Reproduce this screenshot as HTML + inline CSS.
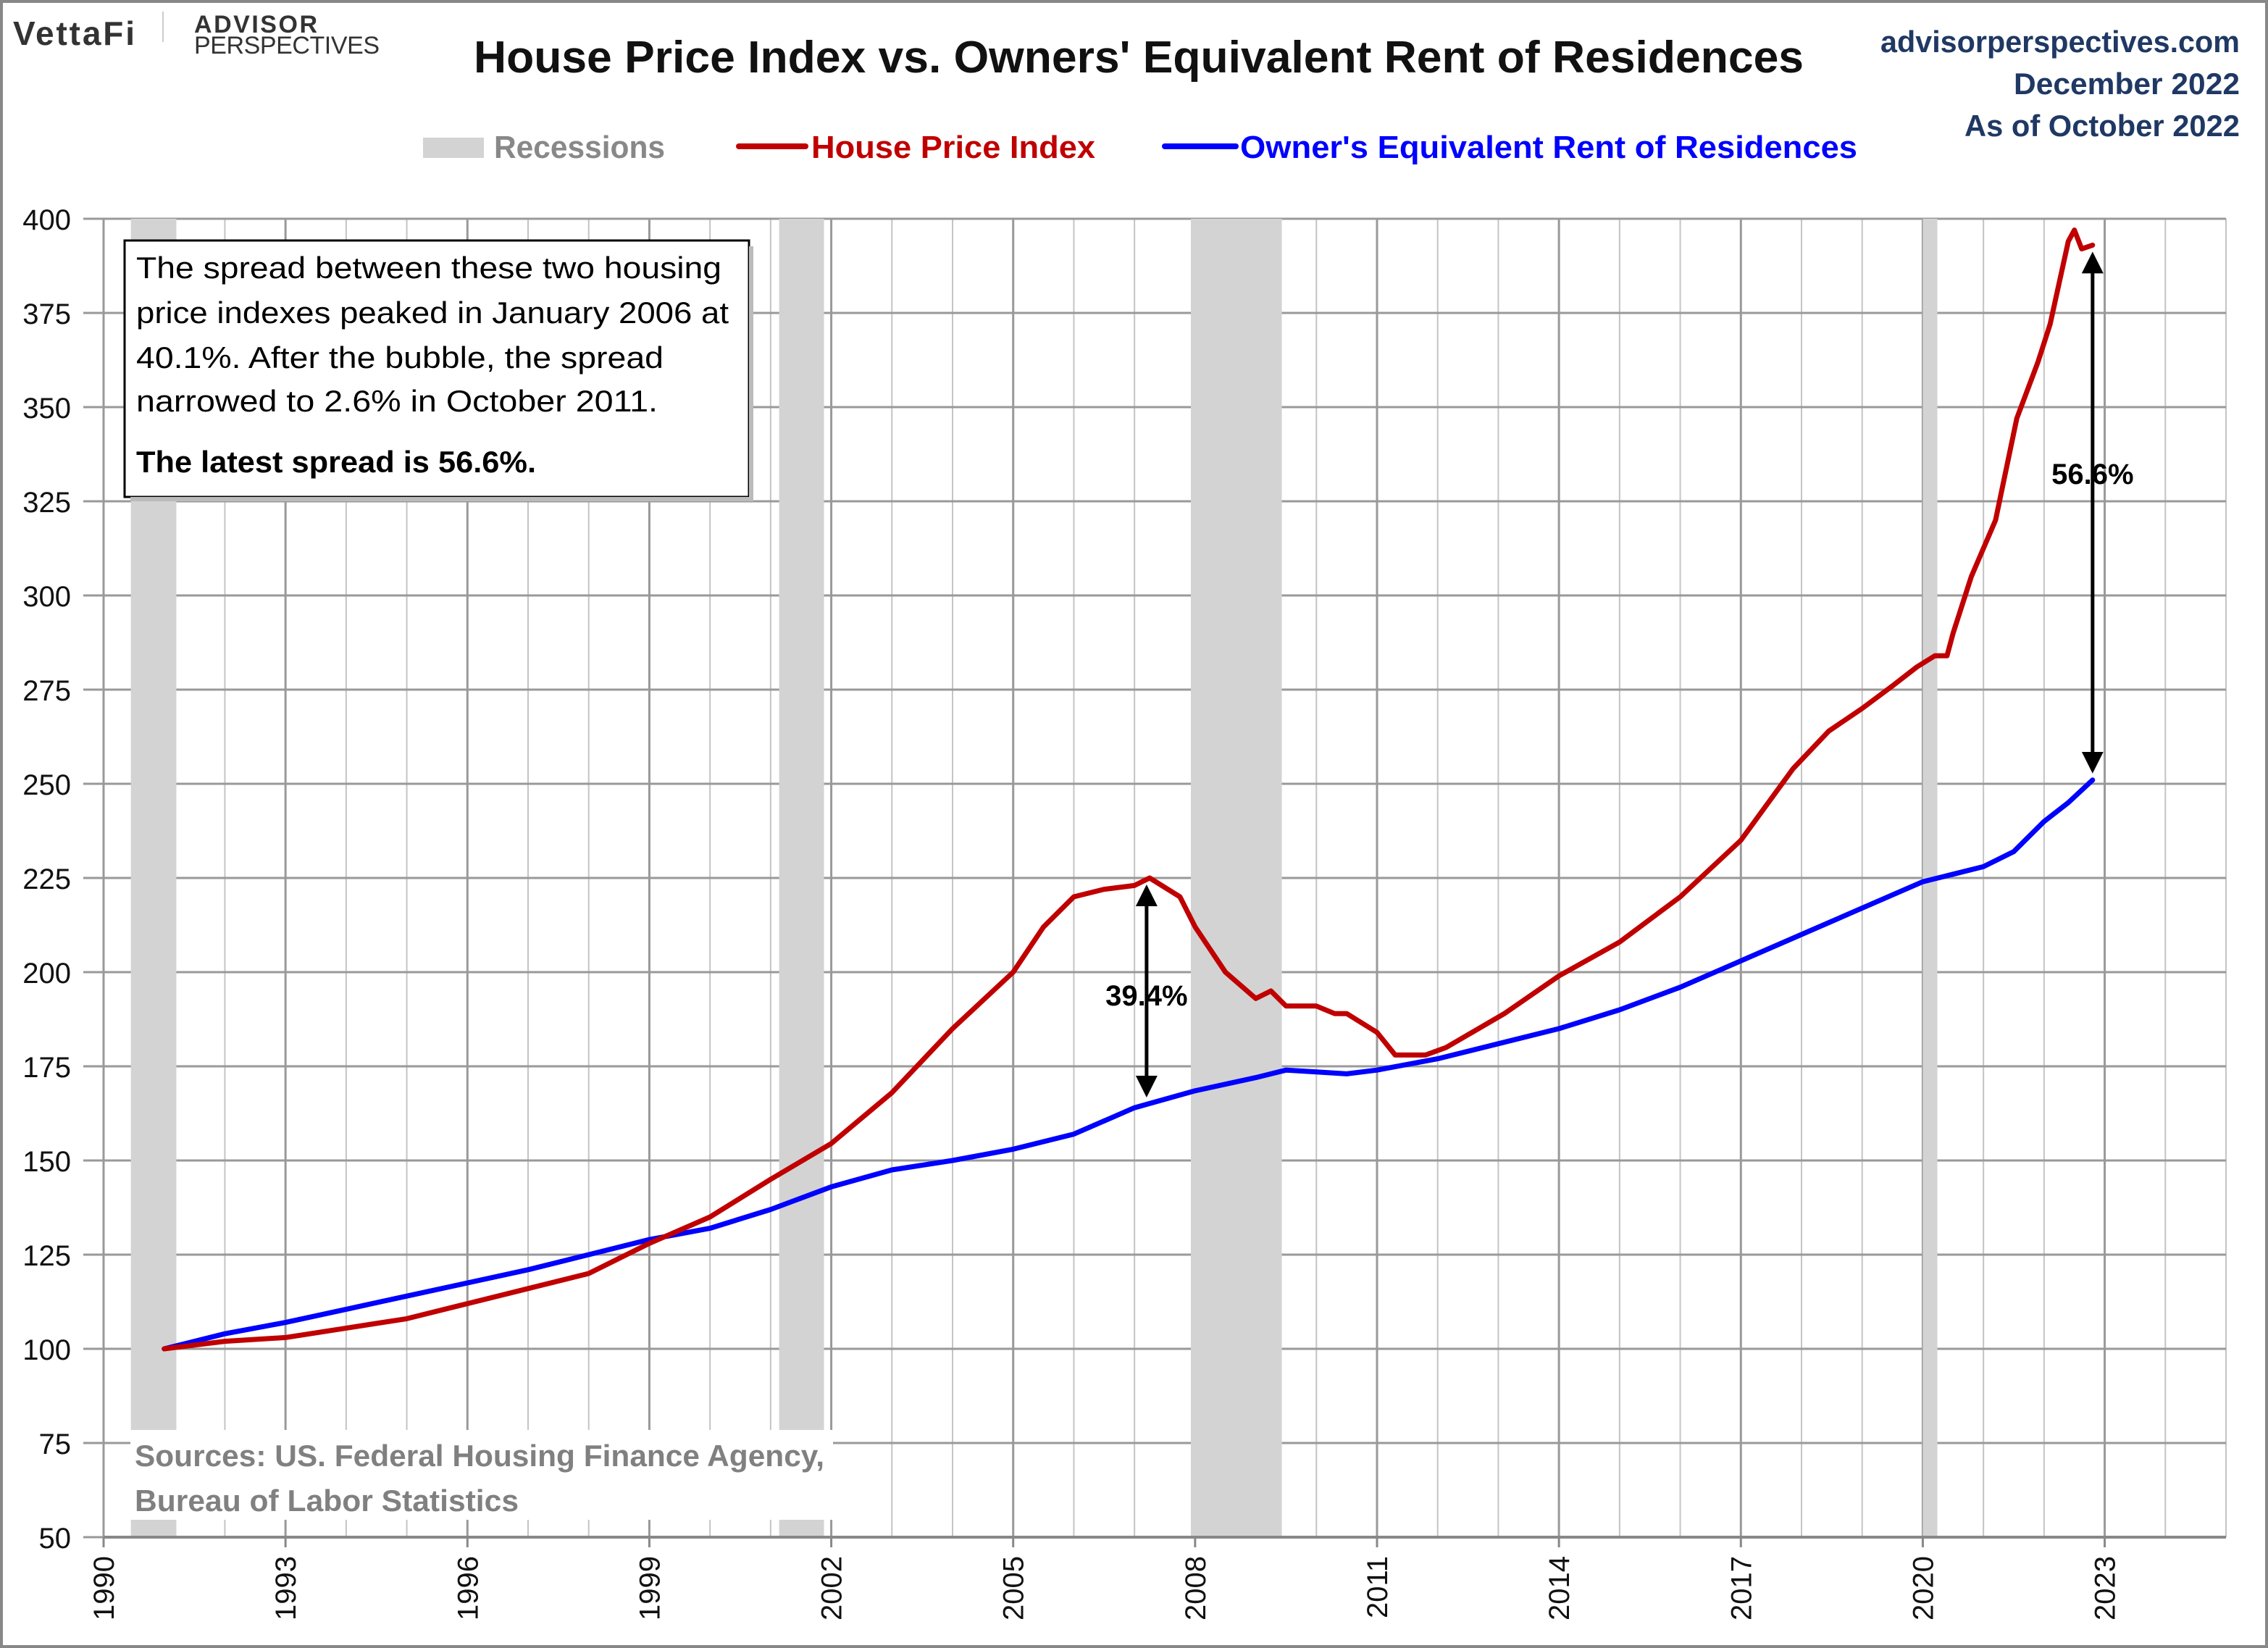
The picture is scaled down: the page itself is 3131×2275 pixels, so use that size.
<!DOCTYPE html>
<html><head><meta charset="utf-8"><style>
html,body{margin:0;padding:0;background:#fff}
svg{display:block}
text{font-family:"Liberation Sans",sans-serif}
</style></head><body>
<svg id="chart" width="3131" height="2275" viewBox="0 0 3131 2275" xmlns="http://www.w3.org/2000/svg">
<rect x="2" y="2" width="3127" height="2271" fill="#fff" stroke="#888" stroke-width="4"/>
<g id="grid"></g>
<g id="recs"></g>
<g id="axes"></g>
<g id="series"></g>
<g>
<text x="18" y="62" font-size="46" font-weight="bold" fill="#333" textLength="168">VettaFi</text>
<line x1="225" y1="16" x2="225" y2="58" stroke="#ccc" stroke-width="2"/>
<text x="268" y="45" font-size="34" font-weight="bold" fill="#333" textLength="170">ADVISOR</text>
<text x="268" y="74" font-size="34" fill="#333" textLength="256">PERSPECTIVES</text>
<text x="1572" y="100" text-anchor="middle" font-size="62" font-weight="bold" fill="#111" textLength="1836" lengthAdjust="spacingAndGlyphs">House Price Index vs. Owners' Equivalent Rent of Residences</text>
<text x="3092" y="72" text-anchor="end" font-size="42" font-weight="bold" fill="#1f3864" textLength="496" lengthAdjust="spacingAndGlyphs">advisorperspectives.com</text>
<text x="3092" y="130" text-anchor="end" font-size="42" font-weight="bold" fill="#1f3864" textLength="312" lengthAdjust="spacingAndGlyphs">December 2022</text>
<text x="3092" y="188" text-anchor="end" font-size="42" font-weight="bold" fill="#1f3864" textLength="380" lengthAdjust="spacingAndGlyphs">As of October 2022</text>
</g>
<g>
<rect x="584" y="190" width="84" height="28" fill="#d3d3d3"/>
<text x="682" y="218" font-size="44" font-weight="bold" fill="#888" textLength="236" lengthAdjust="spacingAndGlyphs">Recessions</text>
<line x1="1020" y1="202" x2="1112" y2="202" stroke="#c00000" stroke-width="8" stroke-linecap="round"/>
<text x="1120" y="218" font-size="44" font-weight="bold" fill="#c00000" textLength="392" lengthAdjust="spacingAndGlyphs">House Price Index</text>
<line x1="1608" y1="202" x2="1706" y2="202" stroke="#0000ff" stroke-width="8" stroke-linecap="round"/>
<text x="1712" y="218" font-size="44" font-weight="bold" fill="#0000ff" textLength="852" lengthAdjust="spacingAndGlyphs">Owner's Equivalent Rent of Residences</text>
</g>
<g id="notes"></g>
</svg>
<script>
const yearTicks=[1990,1993,1996,1999,2002,2005,2008,2011,2014,2017,2020,2023];
const yTicks=[50,75,100,125,150,175,200,225,250,275,300,325,350,375,400];
const recStart=[1990.45,2001.14,2007.93,2020.0];
const recEnd=[1991.2,2001.88,2009.43,2020.24];
const hpiX=[1991,1992,1993,1994,1995,1996,1997,1998,1999,2000,2001,2002,2003,2004,2005,2005.5,2006,2006.5,2007,2007.25,2007.75,2008,2008.5,2009,2009.25,2009.5,2010,2010.3,2010.5,2011,2011.3,2011.8,2012.14,2013.1,2014,2015,2016,2017,2017.86,2018.45,2019,2019.5,2019.9,2020.2,2020.4,2020.5,2020.8,2021.2,2021.55,2021.9,2022.1,2022.4,2022.5,2022.62,2022.8];
const hpiY=[100,102,103,105.5,108,112,116,120,128,135,145,154.5,168,185,200,212,220,222,223,225,220,212,200,193,195,191,191,189,189,184,178,178,180,189,199,208,220,235,254,264,270,276,281,284,284,290,305,320,347,362,372,394,397,392,393];
const oerX=[1991,1992,1993,1994,1995,1996,1997,1998,1999,2000,2001,2002,2003,2004,2005,2006,2007,2008,2009,2009.5,2010,2010.5,2011,2012,2013,2014,2015,2016,2017,2018,2019,2020,2020.5,2021,2021.5,2022,2022.4,2022.8];
const oerY=[100,104,107,110.5,114,117.5,121,125,129,132,137,143,147.5,150,153,157,164,168.5,172,174,173.5,173,174,177,181,185,190,196,203,210,217,224,226,228,232,240,245,251];

const NS="http://www.w3.org/2000/svg";
const L=143,R=3073,T=302,B=2122,X0=1990,X1=2025,Y0=50,Y1=400;
const xs=v=>L+(v-X0)/(X1-X0)*(R-L);
const ys=v=>B-(v-Y0)/(Y1-Y0)*(B-T);
function mk(tag,attrs,parent){const e=document.createElementNS(NS,tag);for(const k in attrs)e.setAttribute(k,attrs[k]);parent.appendChild(e);return e;}
const grid=document.getElementById('grid'),recs=document.getElementById('recs'),axes=document.getElementById('axes'),series=document.getElementById('series'),notes=document.getElementById('notes');
for(let y=X0;y<=X1;y++){
  const l=mk('line',{x1:xs(y),x2:xs(y),y1:T,y2:B,stroke:yearTicks.includes(y)?'#999':'#c4c4c4','stroke-width':yearTicks.includes(y)?3:2},grid);
  
  
}
yTicks.forEach(v=>{
  const l=mk('line',{x1:L-28,x2:R,y1:ys(v),y2:ys(v),stroke:'#999','stroke-width':3},grid);
  
  
  const t=mk('text',{x:98,y:ys(v)+15,'text-anchor':'end','font-size':40,fill:'#111'},axes);
  t.textContent=v;
  
  
});
recStart.forEach((s,i)=>{
  const r=mk('rect',{x:xs(s),y:T,width:xs(recEnd[i])-xs(s),height:B-T,fill:'#d3d3d3'},recs);
  
  
});
mk('line',{x1:L,x2:R,y1:B,y2:B,stroke:'#888','stroke-width':4},axes);
yearTicks.forEach(y=>{
  const tk=mk('line',{x1:xs(y),x2:xs(y),y1:B,y2:B+14,stroke:'#888','stroke-width':3},axes);
  
  
  const t=mk('text',{x:0,y:0,'font-size':40,fill:'#111','text-anchor':'end',transform:`translate(${xs(y)+14},2148) rotate(-90)`,'font-family':'DejaVu Sans, sans-serif'},axes);
  t.textContent=y;
  
  
});
function line(xa,ya,color,name){
  const d=xa.map((x,i)=>(i?'L':'M')+xs(x).toFixed(1)+','+ys(ya[i]).toFixed(1)).join('');
  const p=mk('path',{d:d,fill:'none',stroke:color,'stroke-width':7,'stroke-linejoin':'round','stroke-linecap':'round'},series);
  
  
}
line(oerX,oerY,'#0000ff','oer-line');
line(hpiX,hpiY,'#c00000','hpi-line');

const defs=mk('defs',{},notes);
const m=mk('marker',{id:'ah',markerWidth:6,markerHeight:6,refX:5,refY:3,orient:'auto-start-reverse',markerUnits:'strokeWidth'},defs);
mk('path',{d:'M0,0L6,3L0,6z',fill:'#000'},m);
function arrow(x,v1,v2,label,ly,name){
  const a=mk('line',{x1:xs(x),x2:xs(x),y1:ys(v1)+14,y2:ys(v2)-14,stroke:'#000','stroke-width':5,'marker-start':'url(#ah)','marker-end':'url(#ah)'},notes);
  
  
  const t=mk('text',{x:xs(x),y:ly,'text-anchor':'middle','font-size':40,'font-weight':'bold',fill:'#000'},notes);
  t.textContent=label;
  
  
}
arrow(2007.2,225,165,'39.4%',1388,'spread-2007-arrow');
arrow(2022.8,393,251,'56.6%',668,'spread-2022-arrow');
const box=mk('rect',{x:172,y:332,width:862,height:354,fill:'#fff',stroke:'#000','stroke-width':3},notes);


mk('rect',{x:1034,y:340,width:6,height:352,fill:'#bbb'},notes);
mk('rect',{x:180,y:686,width:860,height:6,fill:'#bbb'},notes);
const lines=['The spread between these two housing','price indexes peaked in January 2006 at','40.1%. After the bubble, the spread','narrowed to 2.6% in October 2011.'];
const lens=[808,818,728,720];
const bys=[384,446,508,568];
lines.forEach((s,i)=>{
  const t=mk('text',{x:188,y:bys[i],'font-size':42,fill:'#000',textLength:lens[i],lengthAdjust:'spacingAndGlyphs'},notes);
  t.textContent=s;
  
  
});
const lt=mk('text',{x:188,y:652,'font-size':42,'font-weight':'bold',fill:'#000',textLength:552,lengthAdjust:'spacingAndGlyphs'},notes);
lt.textContent='The latest spread is 56.6%.';


mk('rect',{x:180,y:1974,width:970,height:124,fill:'#fff'},notes);
const s1=mk('text',{x:186,y:2024,'font-size':42,'font-weight':'bold',fill:'#808080',textLength:952,lengthAdjust:'spacingAndGlyphs'},notes);
s1.textContent='Sources: US. Federal Housing Finance Agency,';


const s2=mk('text',{x:186,y:2086,'font-size':42,'font-weight':'bold',fill:'#808080',textLength:530,lengthAdjust:'spacingAndGlyphs'},notes);
s2.textContent='Bureau of Labor Statistics';


</script>
</body></html>
